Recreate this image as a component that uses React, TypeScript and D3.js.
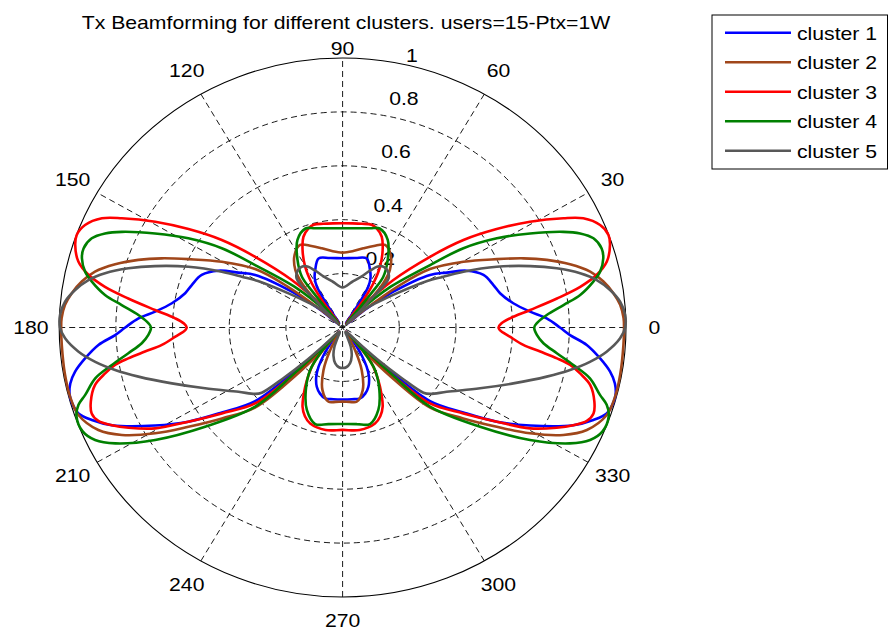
import React from 'react';
import * as d3 from 'd3';

const W = 888;
const H = 632;
const titleText = 'Tx Beamforming for different clusters. users=15-Ptx=1W';
const seriesNames = ['cluster 1', 'cluster 2', 'cluster 3', 'cluster 4', 'cluster 5'];
const seriesColors = ['#0000FF', '#A0461A', '#FF0000', '#008000', '#585858'];
const radialTicks = [0.2, 0.4, 0.6, 0.8, 1];
const angleTicks = [0, 30, 60, 90, 120, 150, 180, 210, 240, 270, 300, 330];
const spokeAngles = [0, 30, 60, 90, 120, 150];

// [angle in degrees, radius]
const cluster1 = [
  [-90, 0.267], [-83, 0.268], [-76.8, 0.27], [-72, 0.258], [-67.5, 0.238], [-63, 0.205], [-59.7, 0.168], [-57, 0.125], [-55, 0.087], [-53, 0.04], [-50, 0.02], [-47, 0.08], [-44, 0.22], [-41.5, 0.412], [-36.5, 0.53], [-32.7, 0.647], [-28.8, 0.755], [-24, 0.891], [-21.2, 0.949], [-18.9, 0.985], [-16.5, 0.995], [-14.5, 0.995], [-12.2, 0.983], [-9.85, 0.958], [-7.2, 0.916], [-4.3, 0.864], [-2, 0.803], [0, 0.767], [2.7, 0.721], [5.1, 0.664], [8.5, 0.609], [12.9, 0.57], [16.5, 0.555], [21.4, 0.534], [25.7, 0.486], [29, 0.42], [32.3, 0.365], [36.6, 0.223], [40, 0.1], [44, 0.02], [52, 0.02], [56, 0.05], [57.4, 0.114], [59.1, 0.177], [62, 0.21], [65.6, 0.234], [71.7, 0.27], [80, 0.262], [90, 0.257],
  [100, 0.262], [108.3, 0.27], [114.4, 0.234], [118, 0.21], [120.9, 0.177], [122.6, 0.114], [124, 0.05], [128, 0.02], [136, 0.02], [140, 0.1], [143.4, 0.223], [147.7, 0.365], [151, 0.42], [154.3, 0.486], [158.6, 0.534], [163.5, 0.555], [167.1, 0.57], [171.5, 0.609], [174.9, 0.664], [177.3, 0.721], [180, 0.767], [182, 0.803], [184.3, 0.864], [187.2, 0.916], [189.85, 0.958], [192.2, 0.983], [194.5, 0.995], [196.5, 0.995], [198.9, 0.985], [201.2, 0.949], [204, 0.891], [208.8, 0.755], [212.7, 0.647], [216.5, 0.53], [221.5, 0.412], [224, 0.22], [227, 0.08], [230, 0.02], [233, 0.04], [235, 0.087], [237, 0.125], [239.7, 0.168], [243, 0.205], [247.5, 0.238], [252, 0.258], [256.8, 0.27], [263, 0.268],
];

const cluster2 = [
  [-90, 0.275], [-85, 0.277], [-79.8, 0.28], [-73, 0.243], [-66.9, 0.172], [-62.3, 0.094], [-58, 0.03], [-54, 0.02], [-50, 0.1], [-47, 0.25], [-43.9, 0.429], [-38.4, 0.543], [-34.1, 0.657], [-30.7, 0.769], [-27.1, 0.875], [-23.8, 0.942], [-19.2, 0.987], [-15.2, 0.995], [-10.1, 0.995], [-3.75, 0.993], [0, 0.993], [2, 0.992], [4.9, 0.983], [7.6, 0.964], [10.5, 0.936], [13.35, 0.898], [16.3, 0.836], [19.2, 0.763], [21.9, 0.688], [25, 0.6], [29.8, 0.491], [35.1, 0.377], [38, 0.25], [40.5, 0.1], [42.5, 0.02], [44.5, 0.06], [46.5, 0.14], [48.8, 0.218], [52, 0.271], [57.8, 0.318], [63.9, 0.341], [70, 0.322], [76, 0.303], [83, 0.285], [90, 0.278],
  [97, 0.285], [104, 0.303], [110, 0.322], [116.1, 0.341], [122.2, 0.318], [128, 0.271], [131.2, 0.218], [133.5, 0.14], [135.5, 0.06], [137.5, 0.02], [139.5, 0.1], [142, 0.25], [144.9, 0.377], [150.2, 0.491], [155, 0.6], [158.1, 0.688], [160.8, 0.763], [163.7, 0.836], [166.65, 0.898], [169.5, 0.936], [172.4, 0.964], [175.1, 0.983], [178, 0.992], [180, 0.993], [183.75, 0.993], [190.1, 0.995], [195.2, 0.995], [199.2, 0.987], [203.8, 0.942], [207.1, 0.875], [210.7, 0.769], [214.1, 0.657], [218.4, 0.543], [223.9, 0.429], [227, 0.25], [230, 0.1], [234, 0.02], [238, 0.03], [242.3, 0.094], [246.9, 0.172], [253, 0.243], [259.8, 0.28], [265, 0.277],
];

const cluster3 = [
  [-90, 0.38], [-81, 0.385], [-72.2, 0.374], [-68, 0.355], [-64.3, 0.326], [-59, 0.256], [-55.5, 0.21], [-52.3, 0.168], [-49.8, 0.077], [-48.5, 0.02], [-47, 0.1], [-45, 0.25], [-42.4, 0.418], [-36.8, 0.532], [-32.7, 0.647], [-29.5, 0.76], [-26.2, 0.842], [-24, 0.891], [-21.9, 0.929], [-19.8, 0.941], [-17.2, 0.93], [-13.7, 0.899], [-11.5, 0.855], [-9.8, 0.815], [-8.6, 0.765], [-7.3, 0.703], [-5.8, 0.641], [-3.3, 0.591], [-1, 0.555], [0, 0.55], [1.5, 0.56], [3.3, 0.592], [5.6, 0.665], [8.1, 0.764], [10.2, 0.852], [12.3, 0.918], [14.7, 0.964], [18, 0.992], [20.1, 0.999], [22.7, 0.985], [25.5, 0.941], [27.5, 0.878], [30.7, 0.769], [33.9, 0.655], [37.3, 0.536], [40.4, 0.405], [44.6, 0.25], [49, 0.094], [51.5, 0.02], [53.5, 0.06], [54.3, 0.126], [56.5, 0.197], [59.7, 0.262], [63.8, 0.32], [67.7, 0.364], [71.9, 0.387], [75, 0.395], [80, 0.391], [85, 0.388], [90, 0.387],
  [95, 0.388], [100, 0.391], [105, 0.395], [108.1, 0.387], [112.3, 0.364], [116.2, 0.32], [120.3, 0.262], [123.5, 0.197], [125.7, 0.126], [126.5, 0.06], [128.5, 0.02], [131, 0.094], [135.4, 0.25], [139.6, 0.405], [142.7, 0.536], [146.1, 0.655], [149.3, 0.769], [152.5, 0.878], [154.5, 0.941], [157.3, 0.985], [159.9, 0.999], [162, 0.992], [165.3, 0.964], [167.7, 0.918], [169.8, 0.852], [171.9, 0.764], [174.4, 0.665], [176.7, 0.592], [178.5, 0.56], [180, 0.55], [181, 0.555], [183.3, 0.591], [185.8, 0.641], [187.3, 0.703], [188.6, 0.765], [189.8, 0.815], [191.5, 0.855], [193.7, 0.899], [197.2, 0.93], [199.8, 0.941], [201.9, 0.929], [204, 0.891], [206.2, 0.842], [209.5, 0.76], [212.7, 0.647], [216.8, 0.532], [222.4, 0.418], [225, 0.25], [227, 0.1], [228.5, 0.02], [229.8, 0.077], [232.3, 0.168], [235.5, 0.21], [239, 0.256], [244.3, 0.326], [248, 0.355], [252.2, 0.374], [261, 0.385],
];

const cluster4 = [
  [-90, 0.358], [-82, 0.362], [-74.9, 0.371], [-67.6, 0.331], [-60.8, 0.266], [-54.1, 0.195], [-50, 0.11], [-48, 0.03], [-46.5, 0.1], [-45, 0.25], [-43.6, 0.426], [-37.2, 0.609], [-32.25, 0.782], [-28.2, 0.91], [-25.55, 0.968], [-22.8, 0.995], [-19.3, 0.995], [-17.1, 0.975], [-15.4, 0.942], [-12.2, 0.893], [-9.7, 0.826], [-7.2, 0.762], [-4.7, 0.711], [-2.3, 0.686], [0, 0.676], [1.3, 0.685], [3.7, 0.722], [6.1, 0.784], [8.2, 0.847], [10.9, 0.901], [12.85, 0.932], [15.6, 0.955], [17.8, 0.96], [20.5, 0.945], [22.6, 0.908], [24.5, 0.856], [27.8, 0.748], [31.3, 0.637], [34.6, 0.518], [36.9, 0.386], [42, 0.22], [46, 0.09], [48.5, 0.02], [50.5, 0.09], [51.5, 0.17], [52.7, 0.237], [57.6, 0.297], [63.9, 0.362], [70.4, 0.39], [75, 0.381], [80, 0.374], [90, 0.368],
  [100, 0.374], [105, 0.381], [109.6, 0.39], [116.1, 0.362], [122.4, 0.297], [127.3, 0.237], [128.5, 0.17], [129.5, 0.09], [131.5, 0.02], [134, 0.09], [138, 0.22], [143.1, 0.386], [145.4, 0.518], [148.7, 0.637], [152.2, 0.748], [155.5, 0.856], [157.4, 0.908], [159.5, 0.945], [162.2, 0.96], [164.4, 0.955], [167.15, 0.932], [169.1, 0.901], [171.8, 0.847], [173.9, 0.784], [176.3, 0.722], [178.7, 0.685], [180, 0.676], [182.3, 0.686], [184.7, 0.711], [187.2, 0.762], [189.7, 0.826], [192.2, 0.893], [195.4, 0.942], [197.1, 0.975], [199.3, 0.995], [202.8, 0.995], [205.55, 0.968], [208.2, 0.91], [212.25, 0.782], [217.2, 0.609], [223.6, 0.426], [225, 0.25], [226.5, 0.1], [228, 0.03], [230, 0.11], [234.1, 0.195], [240.8, 0.266], [247.6, 0.331], [254.9, 0.371], [262, 0.362],
];

const cluster5 = [
  [-90, 0.15], [-85, 0.148], [-79, 0.136], [-73, 0.11], [-68, 0.077], [-65, 0.04], [-60, 0.02], [-52, 0.02], [-48, 0.03], [-46, 0.07], [-44, 0.17], [-42, 0.28], [-40.3, 0.374], [-38.6, 0.395], [-33, 0.438], [-24.95, 0.535], [-19, 0.637], [-14.2, 0.743], [-11.1, 0.818], [-8.3, 0.882], [-5.5, 0.936], [-2.35, 0.98], [0, 0.997], [2.7, 0.998], [5.6, 0.984], [8.4, 0.954], [11.1, 0.914], [13.5, 0.862], [16.2, 0.787], [19, 0.7], [22.5, 0.589], [25.9, 0.474], [28, 0.4], [30, 0.345], [33.6, 0.229], [37.5, 0.15], [41.6, 0.098], [43.5, 0.02], [45.5, 0.1], [46.5, 0.14], [48.3, 0.244], [54.2, 0.266], [59.9, 0.264], [65, 0.235], [70.7, 0.2], [79, 0.172], [90, 0.149],
  [101, 0.172], [109.3, 0.2], [115, 0.235], [120.1, 0.264], [125.8, 0.266], [131.7, 0.244], [133.5, 0.14], [134.5, 0.1], [136.5, 0.02], [138.4, 0.098], [142.5, 0.15], [146.4, 0.229], [150, 0.345], [152, 0.4], [154.1, 0.474], [157.5, 0.589], [161, 0.7], [163.8, 0.787], [166.5, 0.862], [168.9, 0.914], [171.6, 0.954], [174.4, 0.984], [177.3, 0.998], [180, 0.997], [182.35, 0.98], [185.5, 0.936], [188.3, 0.882], [191.1, 0.818], [194.2, 0.743], [199, 0.637], [204.95, 0.535], [213, 0.438], [218.6, 0.395], [220.3, 0.374], [222, 0.28], [224, 0.17], [226, 0.07], [228, 0.03], [232, 0.02], [240, 0.02], [245, 0.04], [248, 0.077], [253, 0.11], [259, 0.136], [265, 0.148],
];

const allSeries = [cluster1, cluster2, cluster3, cluster4, cluster5];

const FONT = "'Liberation Sans', Arial, Helvetica, sans-serif";
const FS = 18.6;
const SX = 1.14;

export default function App() {
  const cx = 342.6;
  const cy = 327.5;
  const rx = 283.4;
  const ry = 269.5;
  const x = d3.scaleLinear().domain([-1, 1]).range([cx - rx, cx + rx]);
  const y = d3.scaleLinear().domain([-1, 1]).range([cy + ry, cy - ry]);
  const rad = (deg: number) => (deg * Math.PI) / 180;
  const px = (deg: number, r: number) => x(r * Math.cos(rad(deg)));
  const py = (deg: number, r: number) => y(r * Math.sin(rad(deg)));

  const lineGen = d3
    .line<number[]>()
    .x((d) => px(d[0], d[1]))
    .y((d) => py(d[0], d[1]))
    .curve(d3.curveCatmullRomClosed.alpha(0.5));

  const T = (
    key: string,
    tx: number,
    ty: number,
    s: string,
    anchor: string = 'middle',
    fs: number = FS
  ) => (
    <text
      key={key}
      transform={`translate(${tx},${ty}) scale(${SX},1)`}
      textAnchor={anchor}
      fontFamily={FONT}
      fontSize={fs}
      fill="#000"
    >
      {s}
    </text>
  );

  const legendX = 712;
  const legendY = 15;
  const legendW = 175.5;
  const legendH = 154;
  const rowH = 29.5;

  return (
    <div style={{ position: 'absolute', left: 0, top: 0 }}>
      <svg width={W} height={H} viewBox={`0 0 ${W} ${H}`} style={{ display: 'block', background: '#fff' }}>
        <rect x={0} y={0} width={W} height={H} fill="#fff" />
        {/* radial grid circles */}
        {radialTicks.map((t) => (
          <ellipse
            key={'c' + t}
            cx={x(0)}
            cy={y(0)}
            rx={x(t) - x(0)}
            ry={y(0) - y(t)}
            fill="none"
            stroke="#000"
            strokeWidth={t === 1 ? 1.1 : 0.9}
            strokeDasharray={t === 1 ? undefined : '6,4'}
          />
        ))}
        {/* spokes */}
        {spokeAngles.map((a) => (
          <line
            key={'s' + a}
            x1={px(a + 180, 1)}
            y1={py(a + 180, 1)}
            x2={px(a, 1)}
            y2={py(a, 1)}
            stroke="#000"
            strokeWidth={0.9}
            strokeDasharray="6,4"
          />
        ))}
        {/* radial labels */}
        {radialTicks.map((t) =>
          t === 1
            ? T('r' + t, px(82, t) + 24, py(82, t) + 1.5, String(t), 'start')
            : T('r' + t, px(82, t) + 15, py(82, t) - 9, String(t), 'start')
        )}
        {/* angle labels */}
        {angleTicks.map((a) => {
          const f = a === 90 ? 1.037 : a === 270 ? 1.088 : 1.1;
          return T('a' + a, px(a, f), py(a, f) + 6.6, String(a));
        })}
        {/* series */}
        {allSeries.map((s, i) => (
          <path
            key={'p' + i}
            d={lineGen(s as number[][]) || ''}
            fill="none"
            stroke={seriesColors[i]}
            strokeWidth={2.6}
            strokeLinejoin="round"
          />
        ))}
        {/* title */}
        {T('title', 346, 28.7, titleText)}
        {/* legend */}
        <rect x={legendX} y={legendY} width={legendW} height={legendH} fill="#fff" stroke="#000" strokeWidth={1} />
        {seriesNames.map((n, i) => {
          const ly = legendY + 17.7 + i * rowH;
          return (
            <g key={'l' + i}>
              <line x1={725} x2={791} y1={ly} y2={ly} stroke={seriesColors[i]} strokeWidth={2.6} />
              {T('lt' + i, 797, ly + 7.2, n, 'start')}
            </g>
          );
        })}
      </svg>
    </div>
  );
}
